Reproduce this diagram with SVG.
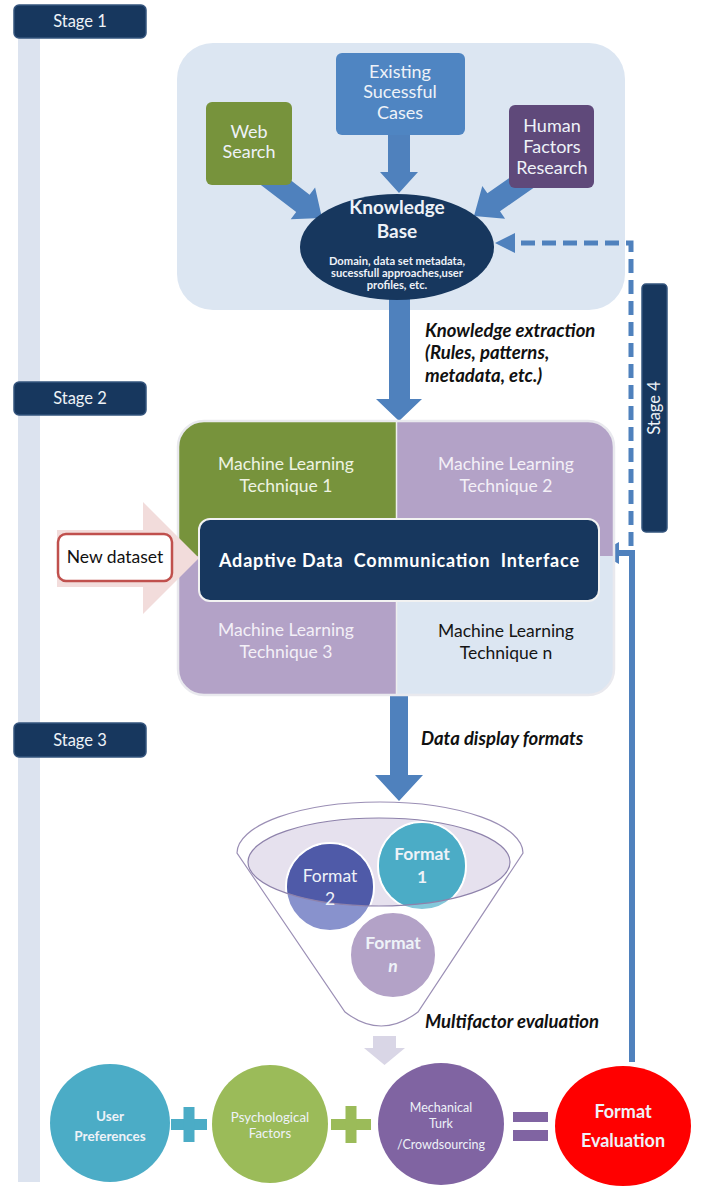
<svg xmlns="http://www.w3.org/2000/svg" width="704" height="1186" viewBox="0 0 704 1186">
<defs>
<style>
text{font-family:Lato,"Open Sans","Liberation Sans",sans-serif}
.stage{fill:#17375e;stroke:#35557e;stroke-width:1.5}
.stxt{fill:#eef2f7;font-size:16.5px;text-anchor:middle}
.w{fill:#eef2f8;text-anchor:middle}
.bi{font-weight:bold;font-style:italic;fill:#111;font-size:18.5px}
.ml{font-size:17.5px;text-anchor:middle}
.blue{fill:#4f81bd}
.b{font-weight:bold}
</style>
<clipPath id="panel2"><rect x="178" y="421" width="436" height="274" rx="26"/></clipPath>
<clipPath id="inner"><ellipse cx="379" cy="862" rx="131" ry="44"/></clipPath>
</defs>
<rect id="timeline" x="18" y="38" width="22" height="1144" fill="#dce3ef"/>

<g id="stage1-label"><rect class="stage" x="14" y="5" width="132" height="33" rx="5"/><text class="stxt" x="80" y="27">Stage 1</text></g>
<g id="stage2-label"><rect class="stage" x="14" y="382" width="132" height="33" rx="5"/><text class="stxt" x="80" y="404">Stage 2</text></g>
<g id="stage3-label"><rect class="stage" x="14" y="723" width="132" height="34" rx="5"/><text class="stxt" x="80" y="746">Stage 3</text></g>
<g id="stage4-label"><rect class="stage" x="642" y="284" width="25" height="248" rx="4"/><text class="stxt" transform="translate(660 408) rotate(-90)">Stage 4</text></g>

<g id="stage1-panel"><rect x="177" y="43" width="448" height="267" rx="36" fill="#dce6f2"/></g>

<g id="connectors">
<polygon class="blue" points="388,120 410,120 410,172 418,172 399,193 380,172 388,172"/>
<polygon class="blue" points="268.7,163.3 309.6,194.7 315.1,187.5 322,218 290.7,219.3 296.2,212.1 255.3,180.7"/>
<polygon class="blue" points="533.7,161 487.4,193.3 482.3,185.9 474,216 505.1,218.7 500,211.3 546.3,179"/>
<polygon class="blue" points="389,296 410,296 410,399 422,399 399,421 376,399 389,399"/>
<polygon class="blue" points="390,694 408,694 408,775 423,775 399,801 375,775 390,775"/>
<polygon fill="#d9d6e6" points="373,1036 396,1036 396,1048 405,1048 384.5,1065 364,1048 373,1048"/>
<path d="M631,546 V243 H512" fill="none" stroke="#4f81bd" stroke-width="5" stroke-dasharray="14,7"/>
<polygon class="blue" points="495,243 515,233 515,253"/>
<path d="M632,1062 V553 H614" fill="none" stroke="#4f81bd" stroke-width="6"/>
<polygon class="blue" points="599,553 619,542 619,564"/>
</g>

<g id="existing-cases"><rect x="336" y="53" width="129" height="82" rx="6" fill="#4f85c2"/>
<text class="w" font-size="18" x="400" y="78">Existing</text><text class="w" font-size="18" x="400" y="98">Sucessful</text><text class="w" font-size="18" x="400" y="119">Cases</text></g>
<g id="web-search"><rect x="206" y="102" width="86" height="83" rx="6" fill="#77933c"/>
<text class="w" font-size="18" x="249" y="138">Web</text><text class="w" font-size="18" x="249" y="158">Search</text></g>
<g id="human-factors"><rect x="509" y="105" width="85" height="83" rx="6" fill="#5f497a"/>
<text class="w" font-size="18" x="552" y="132">Human</text><text class="w" font-size="18" x="552" y="153">Factors</text><text class="w" font-size="18" x="552" y="174">Research</text></g>

<g id="knowledge-base"><ellipse cx="397" cy="247" rx="97" ry="53" fill="#17375e"/>
<text class="w b" font-size="19" x="397" y="214" fill="#fff">Knowledge</text>
<text class="w b" font-size="19" x="397" y="238">Base</text>
<text class="w b" font-size="11.2" x="397" y="265">Domain, data set metadata,</text>
<text class="w b" font-size="11.2" x="397" y="277">sucessfull approaches,user</text>
<text class="w b" font-size="11.2" x="397" y="289">profiles, etc.</text></g>

<g id="knowledge-extraction-label"><text class="bi" x="425" y="337">Knowledge extraction</text><text class="bi" x="425" y="359">(Rules, patterns,</text><text class="bi" x="425" y="382">metadata, etc.)</text></g>

<g id="stage2-panel">
<g clip-path="url(#panel2)">
<rect x="178" y="421" width="218" height="135" fill="#77933c"/>
<rect x="396" y="421" width="218" height="135" fill="#b3a2c7"/>
<rect x="178" y="556" width="218" height="139" fill="#b3a2c7"/>
<rect x="396" y="556" width="218" height="139" fill="#dce6f2"/>
<line x1="396.5" y1="421" x2="396.5" y2="695" stroke="#eef0ee" stroke-width="1.5"/>
</g>
<rect x="178" y="421" width="436" height="274" rx="26" fill="none" stroke="#e9e9ee" stroke-width="2.5"/>
</g>
<g id="ml1"><text class="ml" fill="#eef3e2" x="286" y="470">Machine Learning</text><text class="ml" fill="#eef3e2" x="286" y="492">Technique 1</text></g>
<g id="ml2"><text class="ml" fill="#f3f0f7" x="506" y="470">Machine Learning</text><text class="ml" fill="#f3f0f7" x="506" y="492">Technique 2</text></g>
<g id="ml3"><text class="ml" fill="#f3f0f7" x="286" y="636">Machine Learning</text><text class="ml" fill="#f3f0f7" x="286" y="658">Technique 3</text></g>
<g id="mln"><text class="ml" fill="#151515" x="506" y="637">Machine Learning</text><text class="ml" fill="#151515" x="506" y="659">Technique n</text></g>

<g id="new-dataset">
<polygon fill="#f2dcdb" points="57,530 143,530 143,502 199,558 143,614 143,587 57,587"/>
<rect x="58" y="534" width="114" height="47" rx="8" fill="#fff" stroke="#c0504d" stroke-width="2.5"/>
<text x="115" y="563" font-size="17.5" fill="#111" text-anchor="middle">New dataset</text>
</g>

<g id="adaptive-interface"><rect x="199" y="519" width="400" height="82" rx="11" fill="#17375e" stroke="#f2f2f2" stroke-width="2"/>
<text x="399" y="567" font-size="18" font-weight="bold" fill="#fff" text-anchor="middle" style="white-space:pre" textLength="360">Adaptive Data  Communication  Interface</text></g>

<g id="data-display-label"><text class="bi" x="421" y="745">Data display formats</text></g>

<g id="funnel">
<path d="M237,853 A143,51 0 0 1 523,853 L418,1012 Q381,1040 345,1012 Z" fill="#fff" stroke="#9b8fb5" stroke-width="1.2"/>
<ellipse cx="379" cy="862" rx="131" ry="44" fill="#e6e1ee"/>
</g>
<g id="format2"><circle cx="330" cy="887" r="44" fill="#8892cd" stroke="#fff" stroke-width="2"/>
<circle cx="330" cy="887" r="43" fill="#4f5aa8" clip-path="url(#inner)"/></g>
<g id="format1"><circle cx="422" cy="866" r="44" fill="#84c8da" stroke="#fff" stroke-width="2"/>
<circle cx="422" cy="866" r="43" fill="#4bacc6" clip-path="url(#inner)"/></g>
<ellipse cx="379" cy="862" rx="131" ry="44" fill="none" stroke="#8e82ab" stroke-width="1.2"/>
<g id="format-n"><circle cx="393" cy="955" r="43" fill="#b3a2c7" stroke="#fff" stroke-width="2"/></g>
<text class="w b" font-size="17.5" x="422" y="860">Format</text><text class="w b" font-size="17.5" x="422" y="883">1</text>
<text class="w" fill="#e4e6f4" font-size="17.5" x="330" y="882">Format</text><text class="w" fill="#e4e6f4" font-size="17.5" x="330" y="905">2</text>
<text class="w b" font-size="17.5" x="393" y="949">Format</text><text class="w b" font-size="17.5" x="393" y="972" font-style="italic">n</text>

<g id="multifactor-label"><text class="bi" x="425" y="1028">Multifactor evaluation</text></g>

<g id="user-preferences"><ellipse cx="110" cy="1123" rx="60" ry="59" fill="#4bacc6"/>
<text class="w b" font-size="13.5" x="110" y="1121">User</text><text class="w b" font-size="13.5" x="110" y="1141">Preferences</text></g>
<g id="plus1" fill="#4bacc6"><rect x="171" y="1119" width="36" height="11"/><rect x="183.5" y="1107" width="11" height="35"/></g>
<g id="psychological"><ellipse cx="270" cy="1124" rx="58" ry="59" fill="#9bbb59"/>
<text class="w" fill="#f4f6e4" font-size="13.3" x="270" y="1122">Psychological</text><text class="w" fill="#f4f6e4" font-size="13.3" x="270" y="1138">Factors</text></g>
<g id="plus2" fill="#9bbb59"><rect x="331" y="1119" width="40" height="11"/><rect x="345.5" y="1106" width="11" height="37"/></g>
<g id="mechanical-turk"><ellipse cx="441" cy="1124" rx="63" ry="61" fill="#8064a2"/>
<text class="w" fill="#f1ecf6" font-size="12.5" x="441" y="1112">Mechanical</text><text class="w" fill="#f1ecf6" font-size="12.5" x="441" y="1128">Turk</text><text class="w" fill="#f1ecf6" font-size="12.5" x="441" y="1149">/Crowdsourcing</text></g>
<g id="equals" fill="#8064a2"><rect x="513" y="1112" width="35" height="10"/><rect x="513" y="1130" width="35" height="11"/></g>
<g id="format-evaluation"><ellipse cx="623" cy="1126" rx="68" ry="60" fill="#ff0000"/>
<text class="w b" font-size="18" x="623" y="1118">Format</text><text class="w b" font-size="18" x="623" y="1147">Evaluation</text></g>
</svg>
